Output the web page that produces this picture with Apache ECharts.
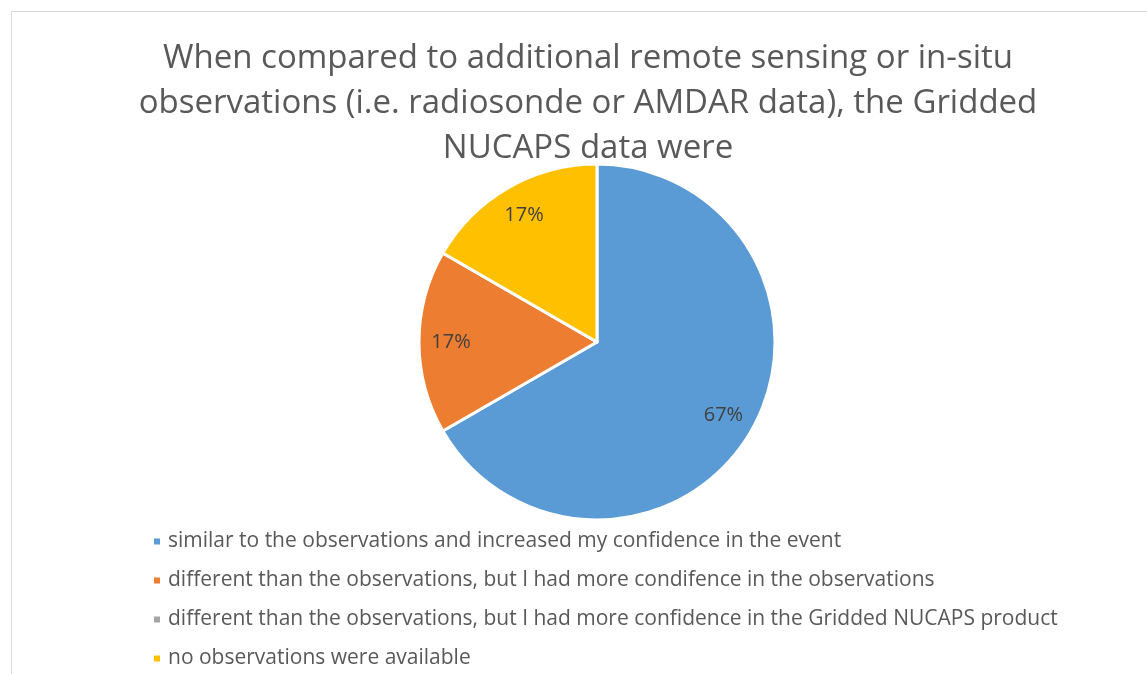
<!DOCTYPE html>
<html>
<head>
<meta charset="utf-8">
<script src="https://cdn.jsdelivr.net/npm/echarts@6/dist/echarts.min.js"></script>
<style>
  html, body { margin: 0; padding: 0; background: #fff; }
  #main { width: 1147px; height: 674px; }
</style>
</head>
<body>
<div id="main"></div>
<script>
var categories = [
    'similar to the observations and increased my confidence in the event',
    'different than the observations, but I had more condifence in the observations',
    'different than the observations, but I had more confidence in the Gridded NUCAPS product',
    'no observations were available'
];
var counts = [4, 1, 0, 1];
var colors = ['#5B9BD5', '#ED7D31', '#A5A5A5', '#FFC000'];
var titleText = 'When compared to additional remote sensing or in-situ\nobservations (i.e. radiosonde or AMDAR data), the Gridded\nNUCAPS data were';

var dom = document.getElementById('main');
var myChart = echarts.init(dom);

var pieData = categories.map(function (name, i) {
    return { name: name, value: counts[i], itemStyle: { color: colors[i] } };
});

var option = {
    backgroundColor: '#fff',
    color: colors,
    title: {
        text: titleText,
        left: 583,
        top: 31,
        textAlign: 'center',
        textStyle: {
            fontFamily: 'Open Sans',
            fontSize: 33,
            fontWeight: 'normal',
            color: '#595959',
            lineHeight: 45
        }
    },
    graphic: [{
        type: 'rect',
        shape: { x: 11.5, y: 11.5, width: 1200, height: 700 },
        style: { fill: null, stroke: '#d9d9d9', lineWidth: 1 },
        silent: true
    }],
    legend: {
        orient: 'vertical',
        left: 147,
        top: 526,
        itemWidth: 8,
        itemHeight: 8,
        itemGap: 18,
        icon: 'rect',
        data: categories,
        textStyle: {
            fontFamily: 'Open Sans',
            fontSize: 21,
            color: '#595959',
            padding: [0, 0, 0, 2]
        }
    },
    series: [{
        type: 'pie',
        center: [597, 342],
        radius: [0, 178],
        startAngle: 90,
        clockwise: true,
        avoidLabelOverlap: false,
        stillShowZeroSum: true,
        itemStyle: { borderColor: '#fff', borderWidth: 3 },
        label: { show: false },
        labelLine: { show: false },
        emphasis: { disabled: true },
        data: pieData
    }, {
        // invisible ring used only to place the percentage labels
        type: 'pie',
        center: [597, 342],
        radius: [108, 178],
        startAngle: 90,
        clockwise: true,
        silent: true,
        legendHoverLink: false,
        itemStyle: { color: 'rgba(0,0,0,0)' },
        label: {
            show: true,
            position: 'inside',
            fontFamily: 'Open Sans',
            fontSize: 20,
            color: '#404040',
            formatter: function (p) {
                return p.value ? Math.round(p.percent) + '%' : '';
            }
        },
        labelLine: { show: false },
        data: categories.map(function (name, i) {
            return { name: name, value: counts[i] };
        })
    }]
};

if (option && typeof option === 'object') {
    myChart.setOption(option, true);
}
</script>
</body>
</html>
